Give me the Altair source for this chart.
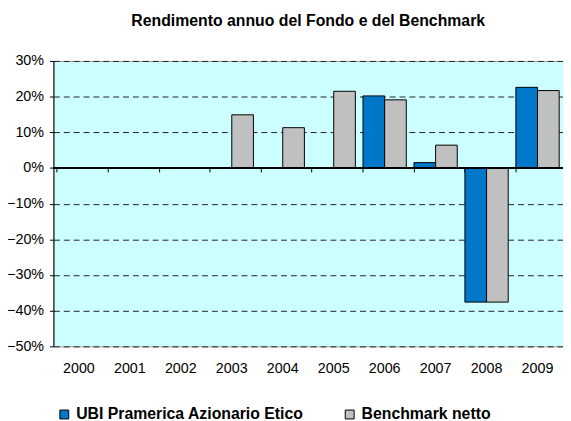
import altair as alt
import pandas as pd

years = ["2000", "2001", "2002", "2003", "2004", "2005", "2006", "2007", "2008", "2009"]
fund = [None, None, None, None, None, None, 0.202, 0.015, -0.376, 0.226]
bench = [None, None, None, 0.149, 0.113, 0.215, 0.191, 0.064, -0.376, 0.217]
series = ["UBI Pramerica Azionario Etico", "Benchmark netto"]
colors = ["#0077C8", "#C0C0C0"]
y_ticks = [0.3, 0.2, 0.1, 0.0, -0.1, -0.2, -0.3, -0.4, -0.5]

rows = []
for i, yr in enumerate(years):
    rows.append({"anno": yr, "serie": series[0], "valore": fund[i]})
    rows.append({"anno": yr, "serie": series[1], "valore": bench[i]})
df = pd.DataFrame(rows)
df = df[df["valore"].notna()]

W, H = 516, 289
yscale = alt.Scale(domain=[-0.5, 0.3], nice=False, zero=False)
xscale = alt.Scale(domain=years, paddingInner=0.15, paddingOuter=0.075)
zero_offset = -(H * 0.5 / 0.8)
FONT = "Liberation Sans"

bars = alt.Chart(df).mark_bar(stroke="black", strokeWidth=1).encode(
    x=alt.X("anno:N", scale=xscale, title=None,
            axis=alt.Axis(labelAngle=0, domain=False, ticks=False, labelPadding=15,
                          labelFont=FONT, labelFontSize=14.5, labelColor="black")),
    xOffset=alt.XOffset("serie:N", scale=alt.Scale(domain=series, paddingInner=0, paddingOuter=0)),
    y=alt.Y("valore:Q", scale=yscale, title=None,
            axis=alt.Axis(values=y_ticks, tickCount=20, format=".0%", grid=True, gridDash=[6, 4],
                          gridColor="#222222", gridWidth=1, domainColor="black", tickColor="black",
                          tickSize=4, labelPadding=6, labelFont=FONT, labelOverlap=False,
                          labelFontSize=14.5, labelColor="black")),
    color=alt.Color("serie:N", scale=alt.Scale(domain=series, range=colors),
                    legend=alt.Legend(title=None, orient="none", direction="horizontal",
                                      legendX=3, legendY=350, symbolType="square",
                                      symbolSize=81, symbolStrokeColor="black",
                                      symbolStrokeWidth=1, labelFont=FONT,
                                      labelFontSize=16, labelFontWeight="bold",
                                      labelColor="black", columnPadding=38, labelLimit=400,
                                      symbolOffset=0, labelOffset=4)),
)

zero_df = pd.DataFrame({"anno": years, "z": [0.0] * len(years)})
zero_rule = alt.Chart(zero_df).mark_rule(color="black", strokeWidth=1).encode(
    y=alt.Y("z:Q", scale=yscale),
)
tick_layer = alt.Chart(zero_df).mark_point(opacity=0).encode(
    x=alt.X("anno:N", scale=xscale, title=None,
            axis=alt.Axis(orient="bottom", offset=zero_offset, labels=False, domain=False,
                          ticks=True, tickSize=4, tickColor="black", bandPosition=0)),
    y=alt.Y("z:Q", scale=yscale),
)

chart = alt.layer(bars, zero_rule, tick_layer).resolve_axis(x="independent").properties(
    width=W, height=H,
    autosize=alt.AutoSizeParams(type="none"),
    padding={"left": 46, "top": 51, "right": 0, "bottom": 76},
    background="white",
    title=alt.Title("Rendimento annuo del Fondo e del Benchmark", font=FONT,
                    fontSize=16, fontWeight="bold", color="black", anchor="middle", offset=24),
).configure_view(fill="#CCFFFF", stroke="#999999", strokeWidth=1)

chart.save("out.html", embed_options={"renderer": "svg", "actions": False})
